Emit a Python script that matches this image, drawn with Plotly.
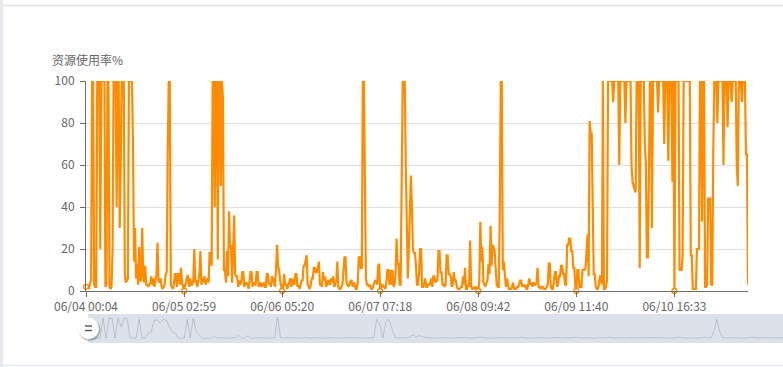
import plotly.graph_objects as go

W, H = 783, 367

# ---- data ----
usage = [
    2, 3, 2, 1, 4, 5, 100, 100, 3, 2, 2, 100, 100, 100, 20, 100, 100, 100, 100, 2,
    3, 100, 100, 2, 1, 2, 20, 100, 100, 100, 40, 100, 100, 30, 60, 100, 100, 100, 8, 4,
    5, 6, 100, 100, 100, 100, 70, 14, 30, 6, 13, 3, 21, 5, 5, 30, 8, 4, 12, 3,
    3, 2, 3, 4, 7, 3, 6, 2, 5, 8, 23, 4, 5, 6, 2, 1, 2, 3, 8, 9,
    66, 100, 100, 3, 2, 1, 3, 8, 8, 2, 8, 8, 3, 11, 4, 2, 0, 3, 4, 7,
    7, 2, 6, 3, 3, 5, 20, 4, 5, 2, 5, 8, 19, 3, 6, 4, 7, 3, 5, 6,
    4, 18, 18, 12, 100, 100, 40, 100, 100, 15, 100, 100, 50, 100, 92, 10, 10, 4, 19, 7,
    38, 20, 22, 4, 19, 36, 8, 7, 7, 2, 5, 3, 4, 9, 9, 2, 4, 3, 4, 1,
    4, 9, 9, 2, 4, 3, 3, 9, 9, 2, 3, 4, 2, 3, 4, 2, 2, 8, 8, 3,
    4, 2, 7, 6, 3, 2, 10, 22, 12, 10, 5, 2, 0, 2, 8, 3, 3, 1, 3, 5,
    6, 2, 6, 4, 3, 8, 8, 2, 3, 1, 3, 5, 5, 12, 12, 14, 17, 3, 2, 1,
    3, 6, 6, 11, 11, 9, 9, 12, 14, 3, 3, 2, 9, 5, 7, 2, 3, 5, 5, 3,
    6, 4, 7, 2, 3, 5, 14, 2, 1, 1, 2, 3, 9, 16, 16, 4, 3, 2, 3, 5,
    5, 2, 4, 3, 1, 1, 4, 16, 16, 11, 11, 100, 100, 33, 6, 3, 3, 2, 3, 1,
    1, 2, 4, 5, 5, 3, 12, 13, 0, 3, 3, 2, 2, 1, 4, 10, 10, 3, 10, 3,
    10, 2, 3, 8, 25, 13, 13, 3, 3, 71, 100, 100, 100, 60, 20, 6, 20, 40, 55, 40,
    20, 18, 18, 12, 3, 3, 8, 20, 20, 2, 2, 3, 6, 2, 2, 3, 3, 4, 6, 2,
    7, 7, 4, 5, 5, 19, 19, 9, 9, 3, 3, 2, 3, 17, 17, 8, 8, 7, 2, 3,
    9, 5, 5, 2, 1, 1, 1, 2, 2, 7, 3, 11, 1, 1, 3, 2, 24, 2, 1, 1,
    2, 1, 2, 1, 0, 5, 33, 14, 21, 4, 3, 2, 4, 5, 13, 8, 31, 12, 22, 21,
    19, 8, 3, 2, 2, 35, 100, 100, 10, 14, 7, 2, 6, 3, 1, 1, 1, 2, 4, 1,
    1, 1, 2, 2, 3, 5, 5, 2, 3, 2, 3, 1, 1, 3, 6, 3, 4, 2, 4, 3,
    3, 4, 11, 2, 2, 1, 2, 2, 1, 1, 1, 2, 3, 13, 13, 2, 1, 1, 4, 9,
    9, 2, 3, 7, 7, 12, 12, 8, 8, 3, 3, 22, 22, 25, 25, 19, 19, 11, 11, 2,
    0, 10, 10, 2, 2, 2, 10, 10, 10, 11, 20, 27, 7, 81, 75, 75, 41, 8, 8, 2,
    1, 1, 3, 7, 7, 3, 100, 1, 1, 2, 5, 100, 100, 100, 100, 100, 90, 100, 100, 100,
    100, 100, 60, 100, 100, 100, 100, 100, 80, 100, 100, 100, 100, 100, 60, 52, 50, 48, 47, 100,
    100, 100, 11, 100, 100, 100, 100, 70, 61, 16, 16, 55, 100, 100, 30, 100, 100, 100, 100, 100,
    85, 100, 100, 100, 100, 100, 70, 100, 100, 100, 62, 100, 100, 100, 52, 100, 0, 100, 100, 100,
    100, 10, 10, 10, 17, 100, 100, 100, 100, 100, 100, 100, 17, 17, 1, 1, 1, 1, 20, 20,
    20, 100, 100, 33, 100, 100, 2, 2, 3, 44, 44, 44, 3, 3, 66, 100, 100, 100, 80, 100,
    100, 100, 100, 100, 60, 100, 100, 100, 78, 100, 100, 100, 90, 100, 100, 100, 100, 60, 50, 100,
    100, 100, 90, 100, 100, 100, 65, 65, 3,
]

tick_index = [0, 96, 192, 288, 384, 480, 576]
tick_labels = ["06/04 00:04", "06/05 02:59", "06/06 05:20", "06/07 07:18",
               "06/08 09:42", "06/09 11:40", "06/10 16:33"]
y_ticks = [0, 20, 40, 60, 80, 100]

# overview (data-zoom shadow) series
overview = [
    8, 8, 9, 8, 8, 84, 8, 84, 84, 9, 84, 52, 84, 84, 8, 9, 8, 80, 9, 8,
    27, 33, 77, 77, 65, 80, 77, 52, 33, 27, 9, 8, 9, 80, 10, 84, 33, 20, 9, 8,
    9, 8, 17, 8, 9, 10, 8, 9, 8, 10, 20, 9, 8, 17, 9, 8, 10, 9, 8, 9,
    8, 10, 9, 88, 10, 9, 8, 9, 10, 8, 9, 8, 11, 9, 8, 9, 10, 8, 9, 8,
    9, 10, 8, 9, 8, 9, 10, 9, 8, 9, 10, 8, 9, 9, 8, 10, 80, 60, 9, 70,
    80, 40, 10, 9, 8, 10, 9, 14, 20, 12, 18, 14, 12, 9, 10, 9, 8, 10, 9, 10,
    9, 8, 10, 9, 10, 11, 9, 8, 9, 10, 9, 12, 9, 10, 9, 8, 10, 11, 9, 8,
    9, 10, 9, 8, 12, 9, 10, 9, 8, 10, 9, 9, 10, 8, 9, 11, 10, 9, 8, 10,
    9, 10, 12, 9, 8, 10, 9, 10, 9, 8, 11, 9, 10, 12, 9, 8, 9, 10, 9, 8,
    10, 9, 8, 9, 10, 9, 11, 10, 9, 8, 9, 10, 9, 8, 10, 9, 12, 10, 9, 8,
    9, 10, 9, 8, 10, 12, 10, 9, 32, 80, 32, 10, 9, 8, 9, 10, 9, 10, 8, 9,
    10, 12, 9, 8, 9, 10, 9, 8, 9, 10, 9, 8,
]

ORANGE = "#ff8c00"
FONT = "Microsoft YaHei, Noto Sans CJK SC, sans-serif"


def px(x):
    return x / W


def py(y):
    return 1 - y / H


x_idx = list(range(len(usage)))
fig = go.Figure()

fig.add_trace(go.Scatter(
    x=x_idx, y=usage, mode="lines",
    line=dict(color=ORANGE, width=2.2),
    hoverinfo="skip", showlegend=False,
))
fig.add_trace(go.Scatter(
    x=tick_index, y=[usage[i] for i in tick_index], mode="markers",
    marker=dict(size=5, color="white", line=dict(color=ORANGE, width=1.3)),
    cliponaxis=False, hoverinfo="skip", showlegend=False,
))

ov_idx = list(range(len(overview)))
fig.add_trace(go.Scatter(
    x=ov_idx, y=overview, mode="lines", xaxis="x2", yaxis="y2",
    line=dict(color="rgba(47,69,84,0.28)", width=0.7),
    hoverinfo="skip", showlegend=False,
))

shapes = [
    # container frame
    dict(type="rect", xref="paper", yref="paper", x0=0, x1=px(3), y0=0, y1=1,
         fillcolor="#e6eaf0", line=dict(width=0), layer="below"),
    dict(type="line", xref="paper", yref="paper", x0=px(3), x1=1, y0=py(5.5), y1=py(5.5),
         line=dict(color="#e3e3e3", width=1.5)),
    dict(type="line", xref="paper", yref="paper", x0=px(3), x1=1, y0=py(365.5), y1=py(365.5),
         line=dict(color="#e8e9ee", width=1.5)),
    # data-zoom slider background
    dict(type="rect", xref="paper", yref="paper", x0=px(88), x1=1.01, y0=py(343), y1=py(314),
         fillcolor="rgb(220,225,234)", line=dict(width=0), layer="below"),
    # handle shadow + handle
    dict(type="circle", xref="paper", yref="paper", x0=px(78.5), x1=px(100.5),
         y0=py(341), y1=py(319), fillcolor="rgba(0,0,0,0.22)", line=dict(width=0)),
    dict(type="circle", xref="paper", yref="paper", x0=px(78), x1=px(99),
         y0=py(339), y1=py(318), fillcolor="white", line=dict(width=0)),
    dict(type="line", xref="paper", yref="paper", x0=px(85), x1=px(92), y0=py(326), y1=py(326),
         line=dict(color="#555", width=1.4)),
    dict(type="line", xref="paper", yref="paper", x0=px(85), x1=px(92), y0=py(330.5), y1=py(330.5),
         line=dict(color="#555", width=1.4)),
]

fig.update_layout(
    width=W, height=H, autosize=False,
    margin=dict(l=0, r=0, t=0, b=0, pad=0, autoexpand=False),
    paper_bgcolor="white", plot_bgcolor="white",
    font=dict(family=FONT, size=12, color="#666"),
    xaxis=dict(
        domain=[px(86), px(748)], range=[0, len(usage) - 1],
        tickmode="array", tickvals=tick_index, ticktext=tick_labels,
        showgrid=False, zeroline=False, automargin=False,
        showline=True, linecolor="#6e6e6e", linewidth=1,
        ticks="outside", ticklen=5, tickcolor="#6e6e6e",
        tickfont=dict(family=FONT, size=12, color="#666"),
        fixedrange=True,
    ),
    yaxis=dict(
        domain=[py(291), py(81)], range=[0, 100],
        tickmode="array", tickvals=y_ticks,
        showgrid=True, gridcolor="#e0e0e0", gridwidth=1,
        zeroline=False, automargin=False,
        showline=True, linecolor="#6e6e6e", linewidth=1,
        ticks="outside", ticklen=5, tickcolor="#6e6e6e",
        ticklabelstandoff=3,
        tickfont=dict(family=FONT, size=12, color="#666"),
        fixedrange=True,
    ),
    xaxis2=dict(
        domain=[px(88), 1], range=[0, len(overview) - 1], anchor="y2",
        visible=False, fixedrange=True, automargin=False,
    ),
    yaxis2=dict(
        domain=[py(343), py(314)], range=[-10, 100], anchor="x2",
        visible=False, fixedrange=True, automargin=False,
    ),
    shapes=shapes,
    annotations=[
        dict(text="资源使用率%", xref="paper", yref="paper",
             x=px(50), y=py(59), xanchor="left", yanchor="middle",
             showarrow=False, font=dict(family=FONT, size=12, color="#666")),
    ],
)

fig.write_html("out.html")
